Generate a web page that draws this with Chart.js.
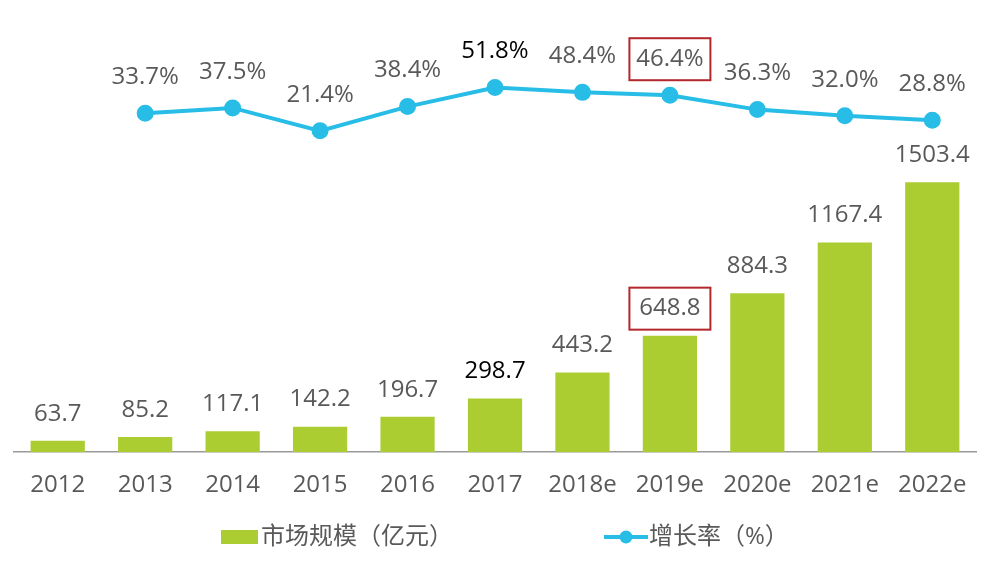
<!DOCTYPE html>
<html>
<head>
<meta charset="utf-8">
<script src="https://cdn.jsdelivr.net/npm/chart.js@4/dist/chart.umd.min.js"></script>
<style>
  html, body { margin: 0; padding: 0; background: #fff; }
  #wrap { width: 998px; height: 564px; }
</style>
</head>
<body>
<div id="wrap"><canvas id="c" width="998" height="564"></canvas></div>
<script>
const categories = ['2012', '2013', '2014', '2015', '2016', '2017', '2018e', '2019e', '2020e', '2021e', '2022e'];
const marketSize = [63.7, 85.2, 117.1, 142.2, 196.7, 298.7, 443.2, 648.8, 884.3, 1167.4, 1503.4];
const growthRate = [null, 33.7, 37.5, 21.4, 38.4, 51.8, 48.4, 46.4, 36.3, 32.0, 28.8];
const seriesNames = ['市场规模（亿元）', '增长率（%）'];
const highlightIndex = 7;
const darkIndex = 5;

const FONT = "'Open Sans', 'Noto Sans CJK SC', sans-serif";
const GREEN = '#abcd32';
const CYAN = '#27bde6';
const GRAY = '#595959';
const RED = '#b3272d';

const labelPlugin = {
  id: 'valueLabels',
  afterDatasetsDraw(chart) {
    const ctx = chart.ctx;
    ctx.save();
    ctx.font = '24px ' + FONT;
    ctx.textAlign = 'center';
    ctx.textBaseline = 'middle';
    chart.data.datasets.forEach((ds, di) => {
      const meta = chart.getDatasetMeta(di);
      meta.data.forEach((el, i) => {
        const v = ds.data[i];
        if (v === null || v === undefined) return;
        const txt = di === 0 ? v.toFixed(1) : v.toFixed(1) + '%';
        const offset = di === 0 ? 27 : 36;
        const x = el.x, y = el.y - offset;
        ctx.fillStyle = i === darkIndex ? '#000' : GRAY;
        ctx.fillText(txt, x, y);
        if (i === highlightIndex) {
          ctx.strokeStyle = RED;
          ctx.lineWidth = 2;
          ctx.strokeRect(x - 40.5, y - 21, 81, 42);
        }
      });
    });
    ctx.restore();
  }
};

const legendPlugin = {
  id: 'customLegend',
  afterDraw(chart) {
    const ctx = chart.ctx;
    const ds = chart.data.datasets;
    ctx.save();
    ctx.font = '24px ' + FONT;
    ctx.textBaseline = 'middle';
    const ly = 537;
    ctx.fillStyle = ds[0].backgroundColor;
    ctx.fillRect(221, 530, 37, 14);
    ctx.fillStyle = GRAY;
    ctx.textAlign = 'left';
    ctx.fillText(ds[0].label, 261, ly);
    ctx.strokeStyle = ds[1].borderColor;
    ctx.lineWidth = 4;
    ctx.beginPath();
    ctx.moveTo(604, ly);
    ctx.lineTo(648, ly);
    ctx.stroke();
    ctx.fillStyle = ds[1].pointBackgroundColor;
    ctx.beginPath();
    ctx.arc(626, ly, 6.5, 0, Math.PI * 2);
    ctx.fill();
    ctx.fillStyle = GRAY;
    ctx.fillText(ds[1].label, 649, ly);
    ctx.restore();
  }
};

new Chart(document.getElementById('c'), {
  data: {
    labels: categories,
    datasets: [
      {
        type: 'bar',
        label: seriesNames[0],
        data: marketSize,
        backgroundColor: GREEN,
        yAxisID: 'y',
        barPercentage: 0.62,
        categoryPercentage: 1.0,
        order: 2
      },
      {
        type: 'line',
        label: seriesNames[1],
        data: growthRate,
        borderColor: CYAN,
        backgroundColor: CYAN,
        pointBackgroundColor: CYAN,
        pointBorderColor: CYAN,
        borderWidth: 4,
        pointRadius: 6.5,
        tension: 0,
        yAxisID: 'y2',
        order: 1
      }
    ]
  },
  options: {
    responsive: false,
    devicePixelRatio: 1,
    animation: false,
    layout: { padding: { left: 14, right: 22, top: 20, bottom: 53 } },
    plugins: {
      legend: { display: false },
      tooltip: { enabled: false }
    },
    scales: {
      x: {
        grid: { display: false },
        border: { display: true, color: '#9a9a9a', width: 1.5 },
        ticks: { color: GRAY, font: { size: 24, family: FONT }, padding: 11, maxRotation: 0 }
      },
      y: {
        display: false,
        min: 0,
        max: 2406
      },
      y2: {
        display: false,
        min: -204.2,
        max: 99.2
      }
    }
  },
  plugins: [labelPlugin, legendPlugin]
});
</script>
</body>
</html>
